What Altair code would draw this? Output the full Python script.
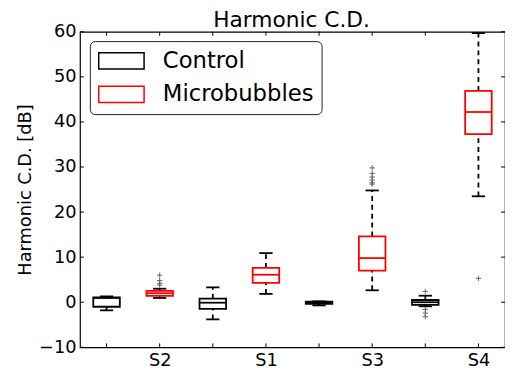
import altair as alt
import pandas as pd

# ---- data ----
title_text = ["Harmonic C.D."]
positions = [1, 2, 3, 4, 5, 6, 7, 8]
groups = ["Control", "Microbubbles"] * 4
whislo = [-1.8, 0.95, -3.8, 1.85, -0.7, 2.65, -0.9, 23.5]
q1 = [-1.0, 1.4, -1.45, 4.3, -0.35, 7.0, -0.6, 37.3]
med = [0.95, 2.0, -0.1, 6.1, -0.1, 9.8, 0.0, 42.2]
q3 = [1.1, 2.5, 0.8, 7.6, 0.15, 14.6, 0.5, 46.9]
whishi = [1.3, 3.0, 3.3, 10.9, 0.2, 24.8, 1.45, 59.7]

out_pos = [2, 2, 2, 2, 6, 6, 6, 6, 6, 6, 7, 7, 7, 7, 8]
out_val = [6.0, 4.8, 4.2, 3.8, 29.8, 28.6, 27.8, 27.1, 26.5, 26.2, 2.4, -1.6, -2.4, -3.2, 5.3]

tick_positions = [2, 4, 6, 8]
tick_labels = ["S2", "S1", "S3", "S4"]
y_ticks = [-10, 0, 10, 20, 30, 40, 50, 60]
x_minor = [1, 2, 3, 4, 5, 6, 7, 8]

W, H = 431, 320
FONT = "DejaVu Sans"

df = pd.DataFrame(dict(pos=positions, group=groups, whislo=whislo, q1=q1,
                       med=med, q3=q3, whishi=whishi))
outl = pd.DataFrame(dict(pos=out_pos, val=out_val))
yt = pd.DataFrame(dict(v=y_ticks))
xt = pd.DataFrame(dict(v=x_minor))
tt = pd.DataFrame(dict(t=title_text))

label_expr = " : ".join(
    f"datum.value == {p} ? '{l}'" for p, l in zip(tick_positions, tick_labels)
) + " : ''"

xscale = alt.Scale(domain=[0.5, 8.5], nice=False, zero=False)
yscale = alt.Scale(domain=[-10, 60], nice=False, zero=False)

xaxis = alt.Axis(values=tick_positions, labelExpr=label_expr, ticks=False,
                 tickSize=0, domain=False, grid=False, labelFontSize=18,
                 labelPadding=4, labelColor="black", labelFont=FONT, title=None)
yaxis = alt.Axis(values=y_ticks, labelExpr="replace(datum.label, '-', '\u2212')",
                 ticks=False, tickSize=0, domain=False, grid=False,
                 labelFontSize=18, labelPadding=4, labelColor="black",
                 labelFont=FONT, title="Harmonic C.D. [dB]", titleFontSize=18,
                 titleFontWeight="normal", titleFont=FONT, titleColor="black",
                 titlePadding=4)

color_scale = alt.Scale(domain=["Control", "Microbubbles"], range=["black", "red"])

base = alt.Chart(df).transform_calculate(
    xl="datum.pos - 0.25", xr="datum.pos + 0.25",
    cl="datum.pos - 0.125", cr="datum.pos + 0.125")

dash = [5, 4]
wlow = base.mark_rule(color="black", strokeDash=dash, strokeWidth=1.8).encode(
    x=alt.X("pos:Q", scale=xscale, axis=xaxis),
    y=alt.Y("whislo:Q", scale=yscale, axis=yaxis), y2="q1:Q")
whigh = base.mark_rule(color="black", strokeDash=dash, strokeWidth=1.8).encode(
    x="pos:Q", y="q3:Q", y2="whishi:Q")
caplo = base.mark_rule(color="black", strokeWidth=1.8).encode(
    x="cl:Q", x2="cr:Q", y="whislo:Q")
caphi = base.mark_rule(color="black", strokeWidth=1.8).encode(
    x="cl:Q", x2="cr:Q", y="whishi:Q")
box = base.mark_rect(fill="white", fillOpacity=0, strokeWidth=1.8).encode(
    x="xl:Q", x2="xr:Q", y="q1:Q", y2="q3:Q",
    stroke=alt.Stroke("group:N", scale=color_scale,
                      legend=alt.Legend(title=None, orient="none", legendX=10,
                                        legendY=9.5)))
median = base.mark_rule(strokeWidth=1.8).encode(
    x="xl:Q", x2="xr:Q", y="med:Q",
    color=alt.Color("group:N", scale=color_scale, legend=None))
outliers = alt.Chart(outl).mark_point(
    shape="M-1,0H1M0,-1V1", size=30, strokeWidth=1, color="#555", opacity=0.9
).encode(x="pos:Q", y="val:Q")

tick_len = 4
ytl = alt.Chart(yt).mark_rule(color="black", strokeWidth=1).encode(
    x=alt.value(0), x2=alt.value(tick_len), y="v:Q")
ytr = alt.Chart(yt).mark_rule(color="black", strokeWidth=1).encode(
    x=alt.value(W - tick_len), x2=alt.value(W), y="v:Q")
xtb = alt.Chart(xt).mark_rule(color="black", strokeWidth=1).encode(
    x="v:Q", y=alt.value(H - tick_len), y2=alt.value(H))
xtt = alt.Chart(xt).mark_rule(color="black", strokeWidth=1).encode(
    x="v:Q", y=alt.value(0), y2=alt.value(tick_len))

title = alt.Chart(tt).mark_text(
    font=FONT, fontSize=22, color="black", align="center",
    baseline="alphabetic"
).encode(text="t:N", x=alt.value(W / 2 - 1), y=alt.value(-4.5))

chart = alt.layer(wlow, whigh, caplo, caphi, box, median, outliers,
                  ytl, ytr, xtb, xtt, title).properties(
    width=W, height=H,
    autosize=alt.AutoSizeParams(type="none"),
    padding={"left": 73, "top": 21.5, "right": 0, "bottom": 28},
).configure(font=FONT).configure_view(
    stroke="black", strokeWidth=1.2
).configure_legend(
    symbolType="M-1,-0.36H1V0.36H-1Z", symbolSize=2116, symbolStrokeWidth=1.5,
    symbolFillColor="white", labelFontSize=23, labelFont=FONT,
    labelColor="black", labelOffset=18, clipHeight=24, rowPadding=10,
    padding=8, strokeColor="#222", fillColor="white", cornerRadius=5,
    labelLimit=400,
)

chart.save("out.html", embed_options={"renderer": "svg", "actions": False})
